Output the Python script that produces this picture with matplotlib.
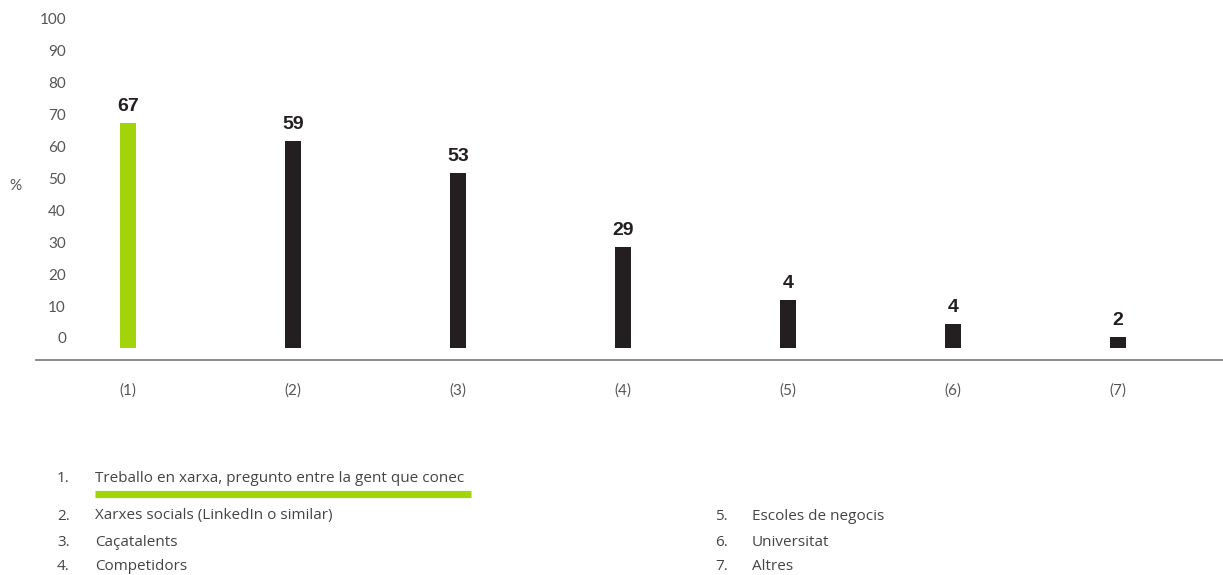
"""
Bar chart: where people look for candidates (%), with a numbered key below.
"""

import matplotlib.pyplot as plt
import numpy as np

CATEGORIES = ["(1)", "(2)", "(3)", "(4)", "(5)", "(6)", "(7)"]
# numbers printed above the bars
VALUE_LABELS = [67, 59, 53, 29, 4, 4, 2]
# bar tops as drawn in the picture (they do not always match the printed value)
BAR_TOPS = [67.4, 61.7, 51.7, 28.5, 11.9, 4.4, 0.3]
BAR_BASE = -3.1
KEY_LEFT = [
    "Treballo en xarxa, pregunto entre la gent que conec",
    "Xarxes socials (LinkedIn o similar)",
    "Caçatalents",
    "Competidors",
]
KEY_RIGHT = ["Escoles de negocis", "Universitat", "Altres"]

GREEN = "#a3d30a"
DARK = "#231f20"
GREY = "#555555"
KEY_FONT = ["Open Sans", "DejaVu Sans"]
KEY_SIZE = 11

plt.rcParams["font.family"] = ["Lato", "DejaVu Sans"]

W, H = 1223, 575
fig = plt.figure(figsize=(W / 100, H / 100), dpi=100)


def fx(px):
    return px / W


def fy(py):
    return 1 - py / H


ax = fig.add_axes([fx(36), fy(360), 1 - fx(36), fy(12.6) - fy(360)])

x = np.arange(len(CATEGORIES))
tops = np.array(BAR_TOPS)
colors = [GREEN] + [DARK] * (len(x) - 1)
ax.bar(x, tops - BAR_BASE, bottom=BAR_BASE, width=0.097, color=colors)

for xi, top, lab in zip(x, tops, VALUE_LABELS):
    ax.annotate(str(lab), (xi, top), xytext=(0, 6), textcoords="offset points",
                ha="center", va="bottom", fontsize=14, fontweight="bold",
                color=DARK, family=["Liberation Sans", "DejaVu Sans"])

ax.set_xlim((36 - 128) / 165, (1223 - 128) / 165)
ax.set_ylim(-6.9, 102)
ax.set_yticks(range(0, 101, 10))
ax.set_xticks(x)
ax.set_xticklabels(CATEGORIES)
ax.tick_params(axis="y", length=0, pad=-21.6, labelsize=11, labelcolor=GREY)
ax.tick_params(axis="x", length=0, pad=17, labelsize=11, labelcolor=GREY)
for s in ["top", "right", "left"]:
    ax.spines[s].set_visible(False)
ax.spines["bottom"].set_color("#777777")
ax.spines["bottom"].set_linewidth(1.2)

fig.text(fx(15), fy(186), "%", ha="center", va="center", fontsize=11, color=GREY)

# numbered key
rows = [478, 516, 542, 567]
for i, (name, ry) in enumerate(zip(KEY_LEFT, rows)):
    fig.text(fx(57), fy(ry), f"{i + 1}.", ha="left", va="center", fontsize=KEY_SIZE, color="#444444", family=KEY_FONT)
    fig.text(fx(95), fy(ry), name, ha="left", va="center", fontsize=KEY_SIZE, color="#444444", family=KEY_FONT)
for i, (name, ry) in enumerate(zip(KEY_RIGHT, rows[1:])):
    fig.text(fx(715), fy(ry), f"{i + 5}.", ha="left", va="center", fontsize=KEY_SIZE, color="#444444", family=KEY_FONT)
    fig.text(fx(752), fy(ry), name, ha="left", va="center", fontsize=KEY_SIZE, color="#444444", family=KEY_FONT)

# green underline marking the highlighted item
fig.add_artist(plt.Line2D([fx(95), fx(471)], [fy(494), fy(494)], color=GREEN,
                          linewidth=5.2, solid_capstyle="butt"))

fig.savefig("out.png", dpi=100)
